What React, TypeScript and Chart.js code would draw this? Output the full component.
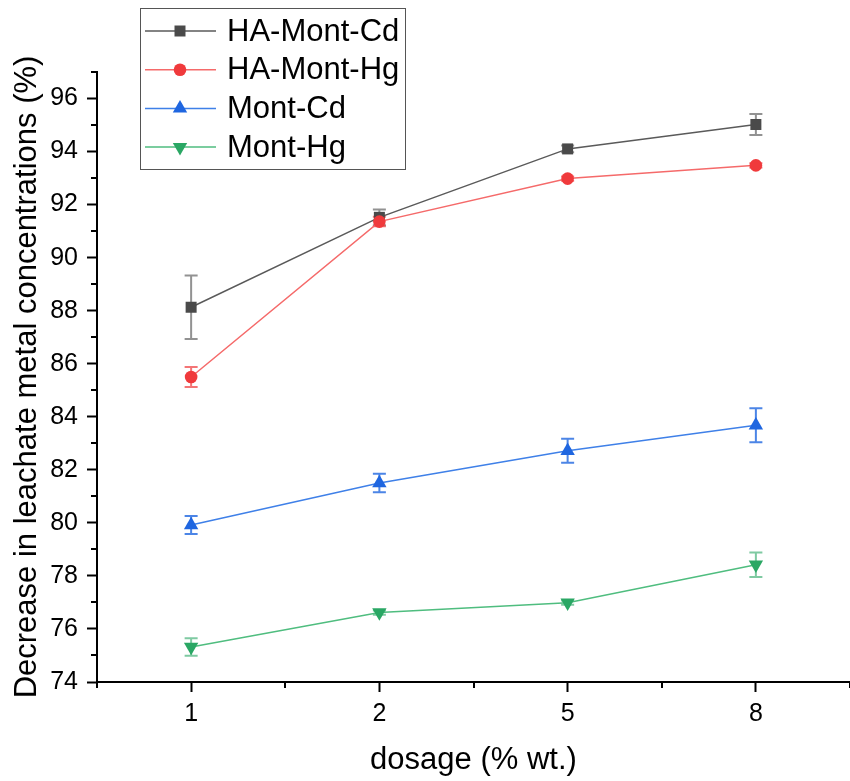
import React, { useEffect, useRef } from 'react';
import { Chart, registerables } from 'chart.js';

Chart.register(...registerables);

const categories = ['1', '2', '5', '8'];

const seriesNames = ['HA-Mont-Cd', 'HA-Mont-Hg', 'Mont-Cd', 'Mont-Hg'];

const haMontCd = [88.13, 91.52, 94.1, 95.02];
const haMontCdErr = [1.2, 0.3, 0.13, 0.4];

const haMontHg = [85.5, 91.36, 92.98, 93.48];
const haMontHgErr = [0.38, 0.18, 0.08, 0.08];

const montCd = [79.92, 81.5, 82.72, 83.68];
const montCdErr = [0.34, 0.35, 0.45, 0.64];

const montHg = [75.32, 76.62, 76.99, 78.42];
const montHgErr = [0.33, 0.08, 0.08, 0.46];

const yMajorTicks = [74, 76, 78, 80, 82, 84, 86, 88, 90, 92, 94, 96];
const yMinorTicks = [75, 77, 79, 81, 83, 85, 87, 89, 91, 93, 95, 97];

const xTitle = 'dosage (% wt.)';
const yTitle = 'Decrease in leachate metal concentrations (%)';

const FONT = "'Liberation Sans', Arial, Helvetica, sans-serif";

const lineColors = ['#5a5a5a', '#f56a6a', '#3f80e8', '#4fbd7f'];
const markerColors = ['#4a4a4a', '#f03a3c', '#1f66e0', '#2aa764'];
const errColors = ['rgba(74,74,74,0.6)', 'rgba(240,58,60,0.7)', 'rgba(31,102,224,0.8)', 'rgba(42,167,100,0.6)'];
const markerShapes = ['square', 'circle', 'triangle', 'invtriangle'];

function drawMarker(ctx: CanvasRenderingContext2D, shape: string, x: number, y: number, color: string) {
  ctx.save();
  ctx.fillStyle = color;
  ctx.beginPath();
  if (shape === 'square') {
    ctx.rect(x - 5.5, y - 5.5, 11, 11);
  } else if (shape === 'circle') {
    ctx.arc(x, y, 6.3, 0, Math.PI * 2);
  } else if (shape === 'triangle') {
    const r = 8.3;
    ctx.moveTo(x, y - r);
    ctx.lineTo(x + r * 0.866, y + r * 0.5);
    ctx.lineTo(x - r * 0.866, y + r * 0.5);
    ctx.closePath();
  } else {
    const r = 8.3;
    ctx.moveTo(x, y + r);
    ctx.lineTo(x + r * 0.866, y - r * 0.5);
    ctx.lineTo(x - r * 0.866, y - r * 0.5);
    ctx.closePath();
  }
  ctx.fill();
  ctx.restore();
}

const errorBarPlugin = {
  id: 'errorBars',
  beforeDatasetsDraw(chart: any) {
    const ctx = chart.ctx as CanvasRenderingContext2D;
    const yScale = chart.scales.y;
    chart.data.datasets.forEach((ds: any, i: number) => {
      const meta = chart.getDatasetMeta(i);
      const errs: number[] = ds.errors || [];
      meta.data.forEach((pt: any, j: number) => {
        const v = ds.data[j];
        const e = errs[j] || 0;
        const top = yScale.getPixelForValue(v + e);
        const bot = yScale.getPixelForValue(v - e);
        const x = pt.x;
        ctx.save();
        ctx.strokeStyle = errColors[i];
        ctx.lineWidth = 2;
        ctx.beginPath();
        ctx.moveTo(x, top);
        ctx.lineTo(x, bot);
        ctx.moveTo(x - 6.5, top);
        ctx.lineTo(x + 6.5, top);
        ctx.moveTo(x - 6.5, bot);
        ctx.lineTo(x + 6.5, bot);
        ctx.stroke();
        ctx.restore();
      });
    });
  },
  afterDatasetsDraw(chart: any) {
    const ctx = chart.ctx as CanvasRenderingContext2D;
    chart.data.datasets.forEach((ds: any, i: number) => {
      const meta = chart.getDatasetMeta(i);
      meta.data.forEach((pt: any) => {
        drawMarker(ctx, markerShapes[i], pt.x, pt.y, markerColors[i]);
      });
    });
  },
};

const decorPlugin = {
  id: 'decor',
  afterDraw(chart: any) {
    const ctx = chart.ctx as CanvasRenderingContext2D;
    const xScale = chart.scales.x;
    const yScale = chart.scales.y;
    const area = chart.chartArea;

    // minor ticks
    ctx.save();
    ctx.strokeStyle = '#000';
    ctx.lineWidth = 2;
    ctx.beginPath();
    yMinorTicks.forEach((v) => {
      const y = Math.round(yScale.getPixelForValue(v));
      ctx.moveTo(area.left - 6, y);
      ctx.lineTo(area.left, y);
    });
    const px = categories.map((_, i) => xScale.getPixelForValue(i));
    const step = px.length > 1 ? px[1] - px[0] : 0;
    const minorX: number[] = [px[0] - step / 2];
    for (let i = 0; i < px.length; i++) minorX.push(px[i] + step / 2);
    minorX.forEach((x) => {
      const xx = Math.round(x);
      ctx.moveTo(xx, area.bottom);
      ctx.lineTo(xx, area.bottom + 6);
    });
    ctx.stroke();
    ctx.restore();

    // axis titles
    ctx.save();
    ctx.fillStyle = '#000';
    ctx.font = `31px ${FONT}`;
    ctx.textAlign = 'center';
    ctx.textBaseline = 'alphabetic';
    ctx.fillText(xTitle, (area.left + area.right) / 2, 769);
    ctx.translate(36, (area.top + area.bottom) / 2);
    ctx.rotate(-Math.PI / 2);
    ctx.fillText(yTitle, 0, 0);
    ctx.restore();

    // legend
    ctx.save();
    ctx.strokeStyle = '#555';
    ctx.lineWidth = 1;
    ctx.strokeRect(140.5, 8.5, 265, 161);
    ctx.font = `31px ${FONT}`;
    ctx.textAlign = 'left';
    ctx.textBaseline = 'middle';
    chart.data.datasets.forEach((ds: any, i: number) => {
      const y = 31 + i * 38.7;
      ctx.strokeStyle = lineColors[i];
      ctx.lineWidth = 1.5;
      ctx.beginPath();
      ctx.moveTo(145, y);
      ctx.lineTo(216, y);
      ctx.stroke();
      drawMarker(ctx, markerShapes[i], 180, y, markerColors[i]);
      ctx.fillStyle = '#000';
      ctx.fillText(ds.label, 227, y + 1);
    });
    ctx.restore();
  },
};

export default function App() {
  const canvasRef = useRef<HTMLCanvasElement | null>(null);

  useEffect(() => {
    const canvas = canvasRef.current;
    if (!canvas) return;
    const values = [haMontCd, haMontHg, montCd, montHg];
    const errs = [haMontCdErr, haMontHgErr, montCdErr, montHgErr];
    const chart = new Chart(canvas, {
      type: 'line',
      data: {
        labels: categories,
        datasets: values.map((vals, i) => ({
          label: seriesNames[i],
          data: vals,
          errors: errs[i],
          borderColor: lineColors[i],
          backgroundColor: markerColors[i],
          borderWidth: 1.5,
          pointRadius: 0,
          pointHoverRadius: 0,
          fill: false,
          tension: 0,
        })) as any,
      },
      options: {
        responsive: false,
        animation: false,
        events: [],
        layout: { padding: { top: 72, left: 0, right: -3, bottom: 0 } },
        plugins: {
          legend: { display: false },
          tooltip: { enabled: false },
          title: { display: false },
        },
        scales: {
          x: {
            type: 'category',
            offset: true,
            grid: {
              display: true,
              offset: false,
              drawOnChartArea: false,
              drawTicks: true,
              tickLength: 10,
              tickWidth: 2,
              tickColor: '#000',
            },
            border: { display: true, color: '#000', width: 2 },
            ticks: {
              color: '#000',
              font: { size: 25, family: FONT },
              padding: 7,
              maxRotation: 0,
            },
            afterFit: (scale: any) => {
              scale.height = 99;
            },
          },
          y: {
            type: 'linear',
            min: 74,
            max: 97,
            grid: {
              display: true,
              drawOnChartArea: false,
              drawTicks: true,
              tickLength: 10,
              tickWidth: 2,
              tickColor: '#000',
            },
            border: { display: true, color: '#000', width: 2 },
            ticks: {
              color: '#000',
              font: { size: 25, family: FONT },
              padding: 9,
            },
            afterBuildTicks: (scale: any) => {
              scale.ticks = yMajorTicks.map((v) => ({ value: v }));
            },
            afterFit: (scale: any) => {
              scale.width = 97;
            },
          },
        },
      } as any,
      plugins: [errorBarPlugin, decorPlugin],
    });
    return () => chart.destroy();
  }, []);

  return (
    <div style={{ position: 'absolute', left: 0, top: 0, width: 850, height: 781, background: '#fff' }}>
      <canvas ref={canvasRef} width={850} height={781} style={{ display: 'block' }} />
    </div>
  );
}
